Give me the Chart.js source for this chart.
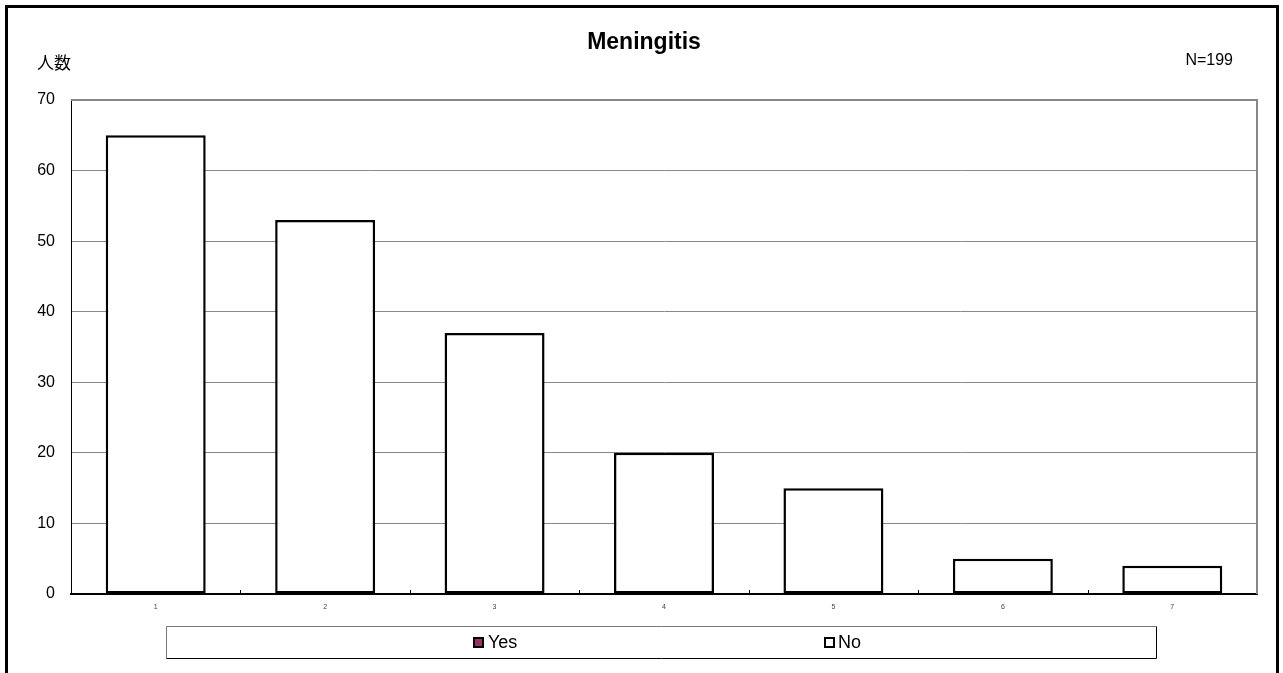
<!DOCTYPE html>
<html>
<head>
<meta charset="utf-8">
<script src="https://cdn.jsdelivr.net/npm/chart.js@4/dist/chart.umd.min.js"></script>
<style>
html,body{margin:0;padding:0;background:#fff;}
#wrap{width:1283px;height:673px;position:relative;}
</style>
</head>
<body>
<div id="wrap"><canvas id="c" width="1283" height="673"></canvas></div>
<script>
const categories = ["1","2","3","4","5","6","7"];
const yesValues = [0,0,0,0,0,0,0];
const noValues = [65,53,37,20,15,5,4];
const yTicks = [0,10,20,30,40,50,60,70];
const titleText = "Meningitis";
const yLabel = "人数";
const nLabel = "N=199";
const seriesNames = ["Yes","No"];
const seriesColors = ["#993366","#ffffff"];

const decor = {
  id: 'decor',
  beforeDraw(chart){
    const ctx = chart.ctx;
    ctx.save();
    ctx.fillStyle = '#fff';
    ctx.fillRect(0,0,chart.width,chart.height);
    ctx.restore();
  },
  afterDraw(chart){
    const ctx = chart.ctx;
    const a = chart.chartArea;
    const x = chart.scales.x;
    ctx.save();
    // plot area top/right gray border
    ctx.strokeStyle = '#888';
    ctx.lineWidth = 2;
    ctx.beginPath();
    ctx.moveTo(a.left, a.top);
    ctx.lineTo(a.right, a.top);
    ctx.lineTo(a.right, a.bottom);
    ctx.stroke();
    // x tick marks between categories
    ctx.strokeStyle = '#000';
    ctx.lineWidth = 1;
    for(let i=1;i<categories.length;i++){
      const px = Math.round((x.getPixelForValue(i-1)+x.getPixelForValue(i))/2)+0.5;
      ctx.beginPath();
      ctx.moveTo(px, a.bottom);
      ctx.lineTo(px, a.bottom-4);
      ctx.stroke();
    }
    // outer frame
    ctx.strokeStyle = '#000';
    ctx.lineWidth = 3;
    ctx.strokeRect(6.5, 6.5, 1271, 700);
    // texts
    ctx.fillStyle = '#000';
    ctx.textBaseline = 'alphabetic';
    ctx.textAlign = 'center';
    ctx.font = 'bold 23px "Liberation Sans", Arial, sans-serif';
    ctx.fillText(titleText, 644, 49);
    ctx.textAlign = 'left';
    ctx.font = '17px "Noto Sans CJK JP", sans-serif';
    ctx.textBaseline = 'middle';
    ctx.fillText(yLabel, 37, 63);
    ctx.font = '16px "Liberation Sans", Arial, sans-serif';
    ctx.textAlign = 'right';
    ctx.fillText(nLabel, 1233, 61);
    // legend box
    ctx.lineWidth = 1;
    ctx.strokeStyle = '#777';
    ctx.beginPath();
    ctx.moveTo(166.5, 658.5); ctx.lineTo(166.5, 626.5); ctx.lineTo(1156.5, 626.5);
    ctx.stroke();
    ctx.strokeStyle = '#000';
    ctx.beginPath();
    ctx.moveTo(1156.5, 626.5); ctx.lineTo(1156.5, 658.5); ctx.lineTo(166.5, 658.5);
    ctx.stroke();
    const items = [{x:473, tx:488},{x:824, tx:838}];
    ctx.font = '18px "Liberation Sans", Arial, sans-serif';
    ctx.textAlign = 'left';
    ctx.textBaseline = 'middle';
    items.forEach((it,i)=>{
      ctx.fillStyle = seriesColors[i];
      ctx.fillRect(it.x, 637, 11, 11);
      ctx.strokeStyle = '#000';
      ctx.lineWidth = 2;
      ctx.strokeRect(it.x+1, 638, 9, 9);
      ctx.fillStyle = '#000';
      ctx.fillText(seriesNames[i], it.tx, 643);
    });
    ctx.restore();
  }
};

new Chart(document.getElementById('c'), {
  type: 'bar',
  data: {
    labels: categories,
    datasets: [
      {label: seriesNames[0], data: yesValues, backgroundColor: seriesColors[0], borderColor:'#000', borderWidth:0, borderSkipped:false, barPercentage:0.59, categoryPercentage:1},
      {label: seriesNames[1], data: noValues, backgroundColor: seriesColors[1], borderColor:'#000', borderWidth:2.5, borderSkipped:false, barPercentage:0.59, categoryPercentage:1}
    ]
  },
  plugins: [decor],
  options: {
    responsive: false,
    animation: false,
    layout: {padding: {top: 100, right: 26, left: 0, bottom: 0}},
    plugins: {legend: {display:false}, title:{display:false}, tooltip:{enabled:false}},
    scales: {
      x: {
        stacked: true,
        grid: {display:false, drawTicks:false},
        border: {display:true, color:'#000', width:2},
        ticks: {color:'#444', font:{size:7, family:'"Liberation Sans", Arial, sans-serif'}, padding:9, maxRotation:0},
        afterFit(s){ s.height = 79; }
      },
      y: {
        stacked: true,
        min: 0, max: 70,
        afterBuildTicks(s){ s.ticks = yTicks.map(v=>({value:v})); },
        grid: {color:'#888', lineWidth:1, drawTicks:false},
        border: {display:true, color:'#000', width:1},
        ticks: {color:'#000', font:{size:16, family:'"Liberation Sans", Arial, sans-serif'}, padding:16},
        afterFit(s){ s.width = 71; }
      }
    }
  }
});
</script>
</body>
</html>
